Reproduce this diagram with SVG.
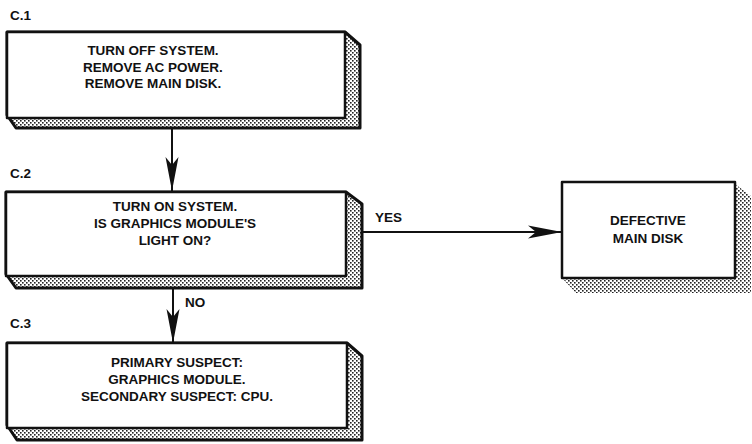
<svg xmlns="http://www.w3.org/2000/svg" width="752" height="444" viewBox="0 0 752 444">
  <style>
    .txt { font-family: "Liberation Sans", Arial, Helvetica, sans-serif; font-weight: bold; font-size: 13.5px; fill: #111; }
    .mid { text-anchor: middle; }
    .face { fill: #fff; stroke: #111; stroke-width: 2.5; stroke-linejoin: round; }
    .depth { fill: url(#stipple); stroke: #111; stroke-width: 3; stroke-linejoin: round; }
    .shadow { fill: url(#stipple); stroke: none; }
    .wire { fill: none; stroke: #111; stroke-width: 2; }
  </style>
  <defs>
    <pattern id="stipple" width="4" height="4" patternUnits="userSpaceOnUse">
      <rect width="4" height="4" fill="#fff"/>
      <rect x="0" y="0" width="1.6" height="1.6" fill="#222"/>
      <rect x="2" y="2" width="1.6" height="1.6" fill="#222"/>
    </pattern>
    <marker id="barb" viewBox="-38 -8 39 16" refX="0" refY="0" markerWidth="39" markerHeight="16" markerUnits="userSpaceOnUse" orient="auto">
      <path d="M0,0 L-34,-6.5 L-26,0 L-34,6.5 Z" fill="#111"/>
    </marker>
  </defs>

  <rect width="752" height="444" fill="#fff"/>

  <!-- step labels -->
  <text class="txt" x="10" y="20">C.1</text>
  <text class="txt" x="10" y="178">C.2</text>
  <text class="txt" x="10" y="328">C.3</text>

  <!-- connectors -->
  <g id="connectors">
    <line class="wire" x1="172" y1="128" x2="172" y2="191" marker-end="url(#barb)"/>
    <line class="wire" x1="173" y1="288" x2="173" y2="343" marker-end="url(#barb)"/>
    <line class="wire" x1="362" y1="232" x2="562" y2="232" marker-end="url(#barb)"/>
    <text class="txt" x="375" y="222">YES</text>
    <text class="txt" x="185" y="307">NO</text>
  </g>

  <!-- C.1 -->
  <g id="step-c1">
    <polygon class="depth" points="7,32 345,32 360,45 360,128 16,128 7,115"/>
    <rect class="face" x="7" y="32" width="338" height="86"/>
    <text class="txt mid" x="153" y="55">TURN OFF SYSTEM.</text>
    <text class="txt mid" x="153" y="72">REMOVE AC POWER.</text>
    <text class="txt mid" x="153" y="88">REMOVE MAIN DISK.</text>
  </g>

  <!-- C.2 -->
  <g id="step-c2">
    <polygon class="depth" points="6,192 346,192 362,204 362,288 16,288 6,274"/>
    <rect class="face" x="6" y="192" width="340" height="84"/>
    <text class="txt mid" x="175" y="211">TURN ON SYSTEM.</text>
    <text class="txt mid" x="175" y="228">IS GRAPHICS MODULE'S</text>
    <text class="txt mid" x="175" y="245">LIGHT ON?</text>
  </g>

  <!-- C.3 -->
  <g id="step-c3">
    <polygon class="depth" points="7,343 347,343 362,356 362,440 17,440 7,425"/>
    <rect class="face" x="7" y="343" width="340" height="85"/>
    <text class="txt mid" x="177" y="367">PRIMARY SUSPECT:</text>
    <text class="txt mid" x="177" y="384">GRAPHICS MODULE.</text>
    <text class="txt mid" x="177" y="401">SECONDARY SUSPECT: CPU.</text>
  </g>

  <!-- result -->
  <g id="defective-main-disk">
    <polygon class="shadow" points="735,184 751,196 751,293 576,293 563,279 735,279"/>
    <rect class="face" x="562" y="182" width="173" height="96"/>
    <text class="txt mid" x="648" y="225">DEFECTIVE</text>
    <text class="txt mid" x="648" y="243">MAIN DISK</text>
  </g>
</svg>
